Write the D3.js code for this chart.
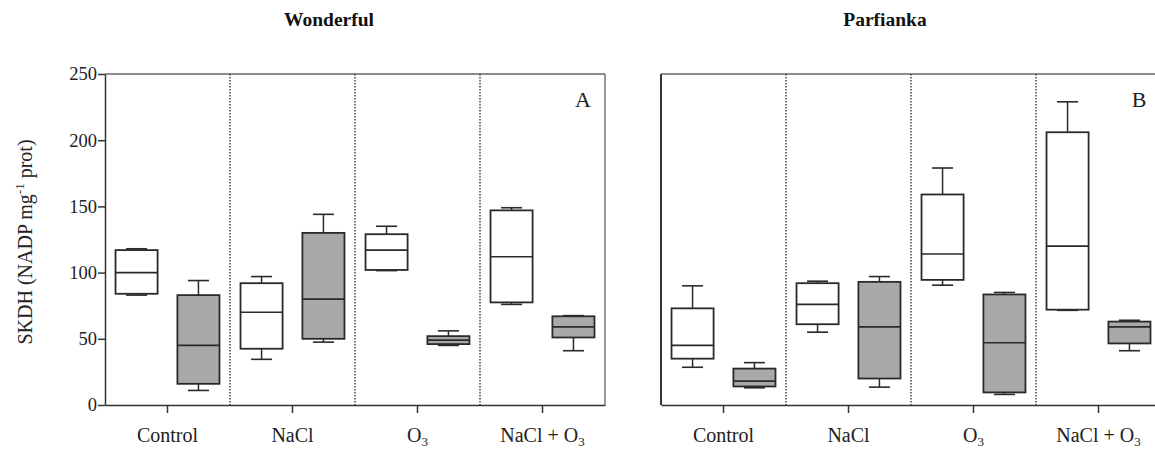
<!DOCTYPE html>
<html>
<head>
<meta charset="utf-8">
<script src="https://cdn.jsdelivr.net/npm/d3@7"></script>
<style>
  body { margin: 0; background: #fff; }
  svg { display: block; font-family: "Liberation Serif", "Times New Roman", serif; }
</style>
</head>
<body>
<div id="chart"></div>
<script>
// SKDH activity box plots, two cultivars side by side
const width = 1155, height = 451;
const margin = {top: 74, bottom: 46};

const categories = ["Control", "NaCl", "O3", "NaCl + O3"];
const cultivars = ["Wonderful", "Parfianka"];
const panelTags = ["A", "B"];
const series = ["white", "grey"];
const yTicks = [0, 50, 100, 150, 200, 250];

// each entry: [min, q1, median, q3, max]
const wonderfulWhite = [[83, 84, 100, 117, 118], [34.5, 42.5, 70, 92, 97], [101.5, 102, 117, 129, 135], [76, 77.5, 112, 147, 149]];
const wonderfulGrey = [[11, 16, 45, 83, 94], [47.5, 50, 80, 130, 144], [45, 46, 49, 52, 56], [41, 51, 59, 67, 67.5]];
const parfiankaWhite = [[28.5, 35, 45, 73, 90], [55, 61, 76, 92, 93.5], [90.5, 94.5, 114, 159, 179], [71.5, 72, 120, 206, 229]];
const parfiankaGrey = [[13, 14, 18, 27.5, 32], [13.5, 20, 59, 93, 97], [8, 9.5, 47, 83.5, 85], [41, 46.5, 59, 63, 64]];

const panelData = [
  {white: wonderfulWhite, grey: wonderfulGrey},
  {white: parfiankaWhite, grey: parfiankaGrey}
];
const panelLeft = [105, 661];
const panelWidth = 500;
const fills = {white: "#ffffff", grey: "#a9a9a9"};
const ink = "#2a2a2a";

const svg = d3.select("#chart").append("svg")
  .attr("width", width).attr("height", height);

const y = d3.scaleLinear().domain([0, 250]).range([height - margin.bottom, margin.top]);

cultivars.forEach((name, p) => {
  const x0 = d3.scaleBand().domain(categories).range([panelLeft[p], panelLeft[p] + panelWidth]);
  const x1 = d3.scaleBand().domain(series).range([0, x0.bandwidth()])
    .paddingInner(0.32).paddingOuter(0.17);
  const bw = x1.bandwidth();
  const g = svg.append("g");

  // frame: top and right border
  g.append("line").attr("x1", x0.range()[0]).attr("x2", x0.range()[1])
    .attr("y1", y(250)).attr("y2", y(250)).attr("stroke", "#666").attr("stroke-width", 1.5);
  g.append("line").attr("x1", x0.range()[1]).attr("x2", x0.range()[1])
    .attr("y1", y(250)).attr("y2", y(0)).attr("stroke", "#777").attr("stroke-width", 1.5);

  // dotted dividers between treatments
  categories.slice(1).forEach(c => {
    g.append("line").attr("x1", x0(c)).attr("x2", x0(c))
      .attr("y1", y(250)).attr("y2", y(0))
      .attr("stroke", ink).attr("stroke-width", 1.3).attr("stroke-dasharray", "1.5,1.5");
  });

  // y axis
  if (p === 0) {
    const ya = g.append("g").attr("transform", `translate(${x0.range()[0]},0)`)
      .call(d3.axisLeft(y).tickValues(yTicks).tickSize(7).tickPadding(1).tickSizeOuter(0));
    ya.selectAll("text").attr("font-size", 18.5).attr("fill", "#222").attr("font-family", "Liberation Serif");
    ya.selectAll("line, path").attr("stroke", "#333").attr("stroke-width", 1.5);
  } else {
    g.append("line").attr("x1", x0.range()[0]).attr("x2", x0.range()[0])
      .attr("y1", y(250)).attr("y2", y(0)).attr("stroke", "#333").attr("stroke-width", 2);
  }

  // x axis
  const xa = g.append("g").attr("transform", `translate(0,${y(0)})`)
    .call(d3.axisBottom(x0).tickSize(8).tickSizeOuter(0).tickFormat(""));
  xa.selectAll("line, path").attr("stroke", "#333").attr("stroke-width", 1.5);

  // category labels (with subscript for O3)
  categories.forEach(c => {
    const t = g.append("text").attr("x", x0(c) + x0.bandwidth() / 2).attr("y", 442)
      .attr("text-anchor", "middle").attr("font-size", 20).attr("fill", "#222");
    const parts = c.split("O3");
    parts.forEach((s, i) => {
      if (s) t.append("tspan").text(s);
      if (i < parts.length - 1) {
        t.append("tspan").text("O");
        t.append("tspan").attr("font-size", 13).attr("dy", 4).text("3");
      }
    });
  });

  // boxes
  series.forEach(s => {
    panelData[p][s].forEach((d, i) => {
      const [mn, q1, med, q3, mx] = d;
      const cx = x0(categories[i]) + x1(s) + bw / 2;
      const left = x0(categories[i]) + x1(s);
      const bg = g.append("g").attr("stroke", ink).attr("fill", "none");
      bg.append("line").attr("x1", cx).attr("x2", cx).attr("y1", y(mx)).attr("y2", y(q3)).attr("stroke-width", 1.5);
      bg.append("line").attr("x1", cx).attr("x2", cx).attr("y1", y(q1)).attr("y2", y(mn)).attr("stroke-width", 1.5);
      bg.append("line").attr("x1", cx - bw / 4).attr("x2", cx + bw / 4).attr("y1", y(mx)).attr("y2", y(mx)).attr("stroke-width", 1.6);
      bg.append("line").attr("x1", cx - bw / 4).attr("x2", cx + bw / 4).attr("y1", y(mn)).attr("y2", y(mn)).attr("stroke-width", 1.6);
      bg.append("rect").attr("x", left).attr("width", bw)
        .attr("y", y(q3)).attr("height", y(q1) - y(q3))
        .attr("fill", fills[s]).attr("stroke-width", 1.8);
      bg.append("line").attr("x1", left).attr("x2", left + bw).attr("y1", y(med)).attr("y2", y(med)).attr("stroke-width", 1.6);
    });
  });

  // cultivar title and panel tag
  svg.append("text").attr("x", x0.range()[0] + 224).attr("y", 26)
    .attr("text-anchor", "middle").attr("font-size", 19.5).attr("font-weight", "bold")
    .attr("fill", "#111").text(name);
  svg.append("text").attr("x", x0.range()[1] - 22).attr("y", 107)
    .attr("text-anchor", "middle").attr("font-size", 22).attr("fill", "#222").text(panelTags[p]);
});

// y axis title
const yl = svg.append("text").attr("transform", "translate(32,242) rotate(-90)")
  .attr("text-anchor", "middle").attr("font-size", 20).attr("fill", "#222");
yl.append("tspan").text("SKDH (NADP mg");
yl.append("tspan").attr("font-size", 13).attr("dy", -8).text("-1");
yl.append("tspan").attr("dy", 8).text(" prot)");
</script>
</body>
</html>
